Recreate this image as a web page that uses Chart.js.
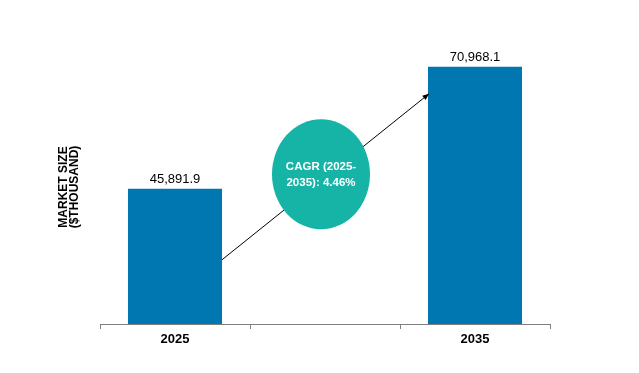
<!DOCTYPE html>
<html>
<head>
<meta charset="utf-8">
<script src="https://cdn.jsdelivr.net/npm/chart.js@4/dist/chart.umd.min.js"></script>
<style>
  html, body { margin: 0; padding: 0; background: #fff; }
  canvas { display: block; }
</style>
</head>
<body>
<canvas id="marketChart" width="639" height="373"></canvas>
<script>
// chart values
const years = ["2025", "", "2035"]
const marketSize = [45891.9, null, 70968.1]
const valueLabels = ["45,891.9", "", "70,968.1"]
const cagrLines = ["CAGR (2025-", "2035): 4.46%"]
const yTitle = ["MARKET SIZE", "($THOUSAND)"]

const barColor = "#0077b0"
const ellipseColor = "#16b4a6"

// value labels on top of bars
const barLabels = {
    id: "barLabels",
    afterDatasetsDraw(chart) {
        const ctx = chart.ctx
        const meta = chart.getDatasetMeta(0)
        ctx.save()
        ctx.font = "13px 'Liberation Sans', Arial, sans-serif"
        ctx.fillStyle = "#000"
        ctx.textAlign = "center"
        ctx.textBaseline = "middle"
        meta.data.forEach((bar, i) => {
            if (!valueLabels[i]) return
            ctx.fillText(valueLabels[i], bar.x, bar.y - 9)
        })
        ctx.restore()
    }
}

// growth arrow + CAGR bubble
const cagrBubble = {
    id: "cagrBubble",
    afterDatasetsDraw(chart) {
        const ctx = chart.ctx
        const y = chart.scales.y
        const x = chart.scales.x
        const bars = chart.getDatasetMeta(0).data
        const x0 = bars[0].x + bars[0].width / 2
        const x1 = bars[2].x - bars[2].width / 2 + 1
        const y0 = y.getPixelForValue(31300)
        const y1 = y.getPixelForValue(65400)

        ctx.save()
        ctx.strokeStyle = "#000"
        ctx.fillStyle = "#000"
        ctx.lineWidth = 1
        ctx.beginPath()
        ctx.moveTo(x0, y0)
        ctx.lineTo(x1, y1)
        ctx.stroke()
        // arrow head
        const ang = Math.atan2(y1 - y0, x1 - x0)
        const len = 7
        ctx.beginPath()
        ctx.moveTo(x1, y1)
        ctx.lineTo(x1 - len * Math.cos(ang - 0.4), y1 - len * Math.sin(ang - 0.4))
        ctx.lineTo(x1 - len * Math.cos(ang + 0.4), y1 - len * Math.sin(ang + 0.4))
        ctx.closePath()
        ctx.fill()

        // ellipse
        const cx = x.getPixelForValue(1) - 4
        const cy = y.getPixelForValue(48870)
        ctx.fillStyle = ellipseColor
        ctx.beginPath()
        ctx.ellipse(cx, cy, 49, 55, 0, 0, Math.PI * 2)
        ctx.fill()

        ctx.fillStyle = "#fff"
        ctx.font = "bold 11.5px 'Liberation Sans', Arial, sans-serif"
        ctx.textAlign = "center"
        ctx.textBaseline = "middle"
        ctx.fillText(cagrLines[0], cx, cy - 7)
        ctx.fillText(cagrLines[1], cx, cy + 9)
        ctx.restore()
    }
}

new Chart(document.getElementById("marketChart"), {
    type: "bar",
    data: {
        labels: years,
        datasets: [{
            data: marketSize,
            backgroundColor: barColor,
            borderWidth: 0,
            categoryPercentage: 1,
            barPercentage: 0.627
        }]
    },
    options: {
        responsive: false,
        animation: false,
        layout: { padding: { top: 50, right: 89, left: 0, bottom: 0 } },
        plugins: {
            legend: { display: false },
            tooltip: { enabled: false }
        },
        scales: {
            x: {
                offset: true,
                grid: {
                    offset: true,
                    drawOnChartArea: false,
                    drawTicks: true,
                    tickLength: 5,
                    color: "#7f7f7f"
                },
                border: { color: "#7f7f7f", width: 1 },
                ticks: {
                    color: "#000",
                    padding: 3,
                    font: { family: "'Liberation Sans', Arial, sans-serif", size: 13, weight: "bold" }
                },
                afterFit: s => { s.height = 49 }
            },
            y: {
                min: 18100,
                max: 74400,
                grid: { display: false },
                border: { display: false },
                ticks: { display: false },
                title: {
                    display: true,
                    text: yTitle,
                    color: "#000",
                    padding: { top: 58, bottom: 0 },
                    font: { family: "'Liberation Sans', Arial, sans-serif", size: 12, weight: "bold", lineHeight: 0.95 }
                },
                afterFit: s => { s.width = 100 }
            }
        }
    },
    plugins: [barLabels, cagrBubble]
})
</script>
</body>
</html>
